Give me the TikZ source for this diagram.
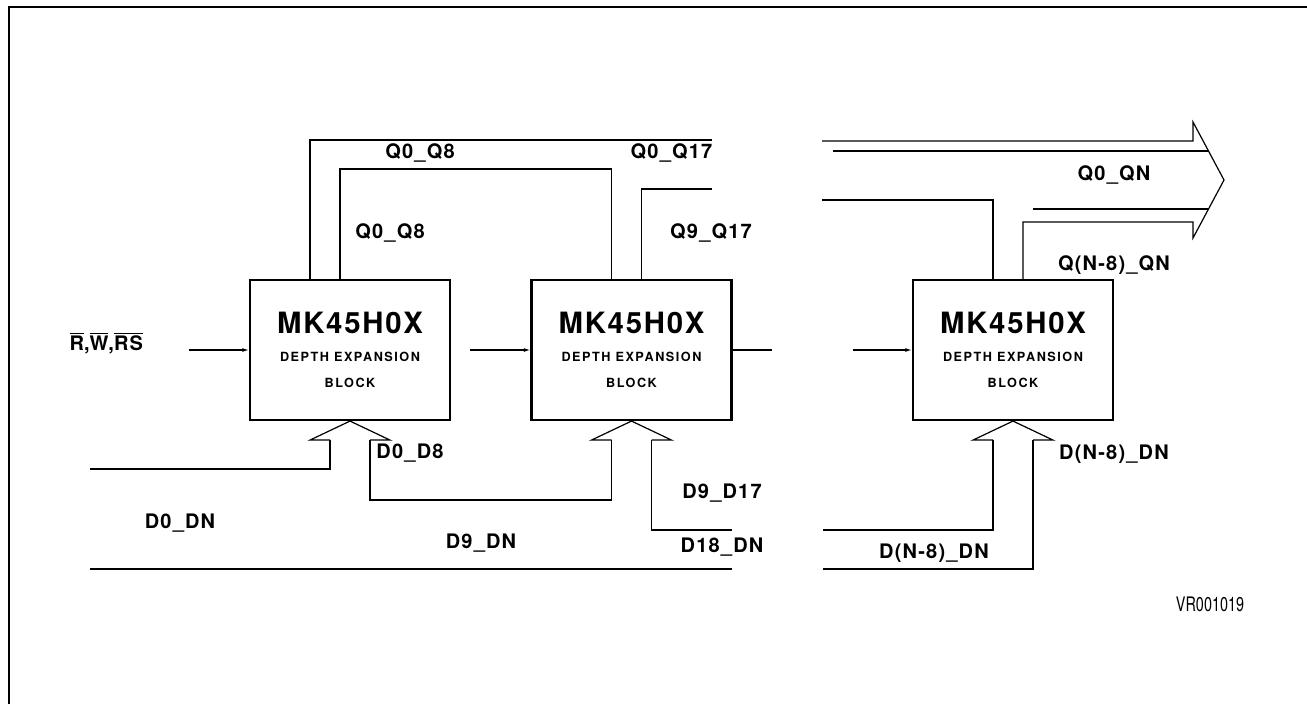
\documentclass[tikz,border=0pt]{standalone}
\usepackage{fontspec}
\setmainfont{TeX Gyre Heros}
\newfontfamily\lblfont{TeX Gyre Heros}[LetterSpace=6]
\newfontfamily\blkfont{TeX Gyre Heros}[LetterSpace=12]
\usetikzlibrary{arrows.meta, calc}
\tikzset{
  every picture/.style={line width=0.9pt},
  block/.style={draw, line width=1.6pt, minimum width=150pt, minimum height=105pt, align=center, inner sep=0pt},
  feed/.style={-{Latex[length=5pt, width=3pt]}},
  frame/.style={line width=1.6pt},
  lbl/.style={font=\lblfont\bfseries\fontsize{15}{18}\selectfont, inner sep=0pt},
  note/.style={font=\fontsize{15}{18}\selectfont, inner sep=0pt, xscale=0.72, transform shape},
}

\begin{document}
\begin{tikzpicture}[x=7.5pt, y=-7.5pt]
  \useasboundingbox (0,0) rectangle (130.7,70.4);
  \draw[frame] (0.9,70.4) -- (0.9,0.7) -- (130.7,0.7);
  % expansion blocks
  \foreach \n/\x in {b1/35, b2/63.15, b3/101.3}
    \node[block] (\n) at (\x,35) {{\lblfont\bfseries\fontsize{22}{22}\selectfont MK45H0X}\\[9pt]
      {\blkfont\bfseries\fontsize{9.5}{18}\selectfont DEPTH EXPANSION}\\[7pt]
      {\blkfont\bfseries\fontsize{9.5}{18}\selectfont BLOCK}};
  % free ends
  \coordinate (rwin) at (18.9,35);
  \coordinate (mid1) at (47,35);
  \coordinate (mid2) at (77.2,35);
  \coordinate (mid3) at (85.3,35);
  \coordinate (q17a) at (71.2,14);
  \coordinate (q17b) at (71.2,18.9);
  \coordinate (qna) at (82.2,20);
  \coordinate (qnb) at (82.2,14.1);
  \coordinate (qnc) at (83.3,15.1);
  \coordinate (d0in) at (9,46.9);
  \coordinate (d18a) at (73.2,53);
  \coordinate (dna) at (9,56.9);
  \coordinate (dnb) at (73.2,56.9);
  \coordinate (dnc) at (82.3,53);
  \coordinate (dnd) at (82.3,56.9);
  % control chain
  \draw[feed] (rwin) -- (b1.west);
  \draw[feed] (mid1) -- (b2.west);
  \draw (b2.east) -- (mid2);
  \draw[feed] (mid3) -- (b3.west);
  % outputs
  \draw ($(b1.north)+(-4,0)$) |- (q17a);
  \draw ($(b1.north)+(-1,0)$) -- ++(0,-11) -| ($(b2.north)+(-2,0)$);
  \draw ($(b2.north)+(1,0)$) |- (q17b);
  \draw (qna) -| ($(b3.north)+(-2,0)$);
  \draw (qnb) -- ++(37.1,0) -- ++(0,-1.9) -- ++(3.1,5.8) -- ++(-3.1,5.8) -- ++(0,-1.6) -| ($(b3.north)+(1,0)$);
  \draw (qnc) -- ++(37.55,0);
  \draw ($(b3.north)+(2,-7)$) -- ++(17.5,0);
  % inputs
  \foreach \b in {b1,b2,b3}
    \draw ($(\b.south)+(-2,1.9)$) -- ++(-2,0) -- (\b.south) -- ++(4,1.9) -- ++(-2,0);
  \draw ($(b1.south)+(-2,1.9)$) |- (d0in);
  \draw ($(b1.south)+(2,1.9)$) -- ++(0,6) -| ($(b2.south)+(-2,1.9)$);
  \draw ($(b2.south)+(2,1.9)$) |- (d18a);
  \draw (dna) -- (dnb);
  \draw ($(b3.south)+(-2,1.9)$) |- (dnc);
  \draw ($(b3.south)+(2,1.9)$) |- (dnd);
  % labels
  \node[lbl, anchor=base west] (rws) at (6.9,35) {$\overline{\hbox{R}}$,$\overline{\hbox{W}}$,$\overline{\hbox{RS}}$};
  \node[lbl] (lq8a) at (42,15.3) {Q0\_Q8};
  \node[lbl] (lq8b) at (39,23.3) {Q0\_Q8};
  \node[lbl] (lq17a) at (67.15,15.3) {Q0\_Q17};
  \node[lbl] (lq17b) at (71.1,23.3) {Q9\_Q17};
  \node[lbl] (lqn) at (111.4,17.5) {Q0\_QN};
  \node[lbl] (lqn8) at (111.4,26.5) {Q(N-8)\_QN};
  \node[lbl] (ld8) at (41,45.3) {D0\_D8};
  \node[lbl] (ld0n) at (18,52.3) {D0\_DN};
  \node[lbl] (ld9n) at (48.1,54.3) {D9\_DN};
  \node[lbl] (ld17) at (72.2,49.3) {D9\_D17};
  \node[lbl] (ld18) at (72.2,54.7) {D18\_DN};
  \node[lbl] (ldn8a) at (111.4,45.4) {D(N-8)\_DN};
  \node[lbl] (ldn8b) at (93.4,55.3) {D(N-8)\_DN};
  \node[note] (fig) at (121,60.4) {VR001019};
\end{tikzpicture}
\end{document}
